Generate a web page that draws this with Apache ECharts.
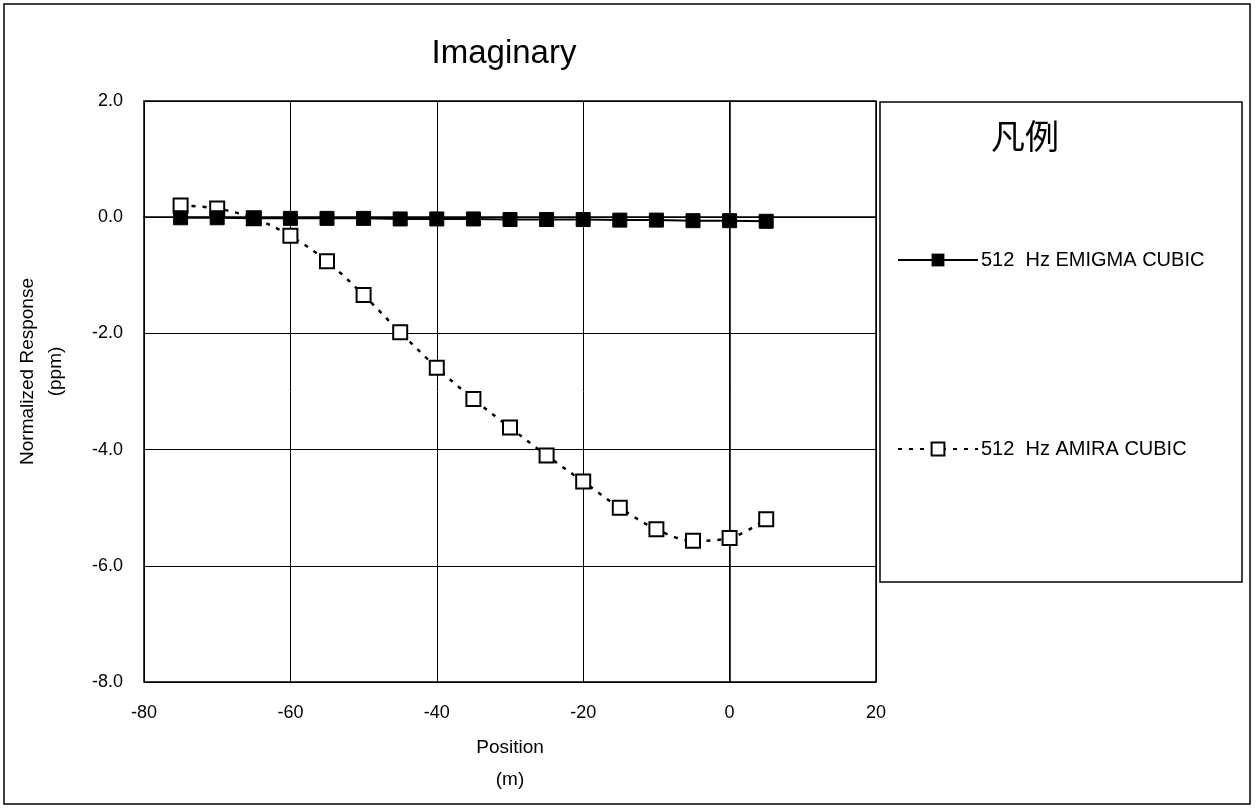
<!DOCTYPE html>
<html><head><meta charset="utf-8">
<script src="https://cdn.jsdelivr.net/npm/echarts@6/dist/echarts.min.js"></script>
<style>html,body{margin:0;padding:0;background:#fff}#c{width:1257px;height:810px}</style>
</head><body><div id="c"></div>
<script>
const positions = [-75,-70,-65,-60,-55,-50,-45,-40,-35,-30,-25,-20,-15,-10,-5,0,5];
const emigma = [-0.01,-0.01,-0.02,-0.02,-0.02,-0.02,-0.03,-0.03,-0.03,-0.04,-0.04,-0.04,-0.05,-0.05,-0.06,-0.06,-0.07];
const amira = [0.20,0.15,-0.02,-0.32,-0.76,-1.34,-1.98,-2.59,-3.13,-3.62,-4.10,-4.55,-5.00,-5.37,-5.57,-5.52,-5.20];
const seriesNames = ['512  Hz EMIGMA CUBIC','512  Hz AMIRA CUBIC'];
const titleText = 'Imaginary';
const legendTitle = '凡例';

const font = 'Liberation Sans, Arial, sans-serif';
const chart = echarts.init(document.getElementById('c'), null, {renderer:'canvas'});
chart.setOption({
  backgroundColor:'#fff',
  animation:false,
  title:{text:titleText,left:499,top:32,textAlign:'center',textStyle:{fontFamily:font,fontSize:33,fontWeight:'normal',color:'#000'}},
  grid:{left:144,right:381,top:101,bottom:128,show:true,borderColor:'#000',borderWidth:1.5,backgroundColor:'transparent'},
  xAxis:{type:'value',min:-80,max:20,interval:20,
    name:'Position\n(m)',nameLocation:'middle',nameGap:50,
    nameTextStyle:{fontFamily:font,fontSize:19,color:'#000',lineHeight:32},
    axisLine:{show:true,lineStyle:{color:'#000',width:1.5}},
    axisTick:{show:false},
    splitLine:{show:true,lineStyle:{color:'#000',width:1}},
    axisLabel:{fontFamily:font,fontSize:18,color:'#000',margin:22}},
  yAxis:{type:'value',min:-8,max:2,interval:2,
    name:'Normalized Response\n(ppm)',nameLocation:'middle',nameGap:74,nameRotate:90,
    nameTextStyle:{fontFamily:font,fontSize:19,color:'#000',lineHeight:28,padding:[0,0,0,40]},
    axisLine:{show:true,lineStyle:{color:'#000',width:1.5}},
    axisTick:{show:false},
    splitLine:{show:true,lineStyle:{color:'#000',width:1}},
    axisLabel:{fontFamily:font,fontSize:18,color:'#000',margin:21,formatter:v=>v.toFixed(1)}},
  legend:[
    {data:[seriesNames[0]],left:892,top:245,itemWidth:80,itemHeight:16,itemGap:0,
     textStyle:{fontFamily:font,fontSize:20,color:'#000',padding:[0,0,0,-2]}},
    {data:[seriesNames[1]],left:892,top:434,itemWidth:80,itemHeight:16,itemGap:0,
     textStyle:{fontFamily:font,fontSize:20,color:'#000',padding:[0,0,0,-2]}}
  ],
  graphic:[
    {type:'rect',shape:{x:4,y:4,width:1246,height:800},style:{fill:null,stroke:'#000',lineWidth:1.5},silent:true,z:-1},
    {type:'rect',shape:{x:880,y:102,width:362,height:480},style:{fill:null,stroke:'#000',lineWidth:1.5},silent:true},
    {type:'text',left:991,top:119,style:{text:legendTitle,fontFamily:'Noto Sans CJK JP',fontSize:34,fill:'#000'}}
  ],
  series:[
    {name:seriesNames[0],type:'line',data:positions.map((p,i)=>[p,emigma[i]]),
     symbol:'rect',symbolSize:14,showAllSymbol:true,
     lineStyle:{color:'#000',width:2},itemStyle:{color:'#000',borderColor:'#000'},z:3},
    {name:seriesNames[1],type:'line',smooth:0.35,data:positions.map((p,i)=>[p,amira[i]]),
     symbol:'rect',symbolSize:14,showAllSymbol:true,
     lineStyle:{color:'#000',width:2.5,type:[4,7]},itemStyle:{color:'#fff',borderColor:'#000',borderWidth:2},z:2}
  ]
});
</script></body></html>
